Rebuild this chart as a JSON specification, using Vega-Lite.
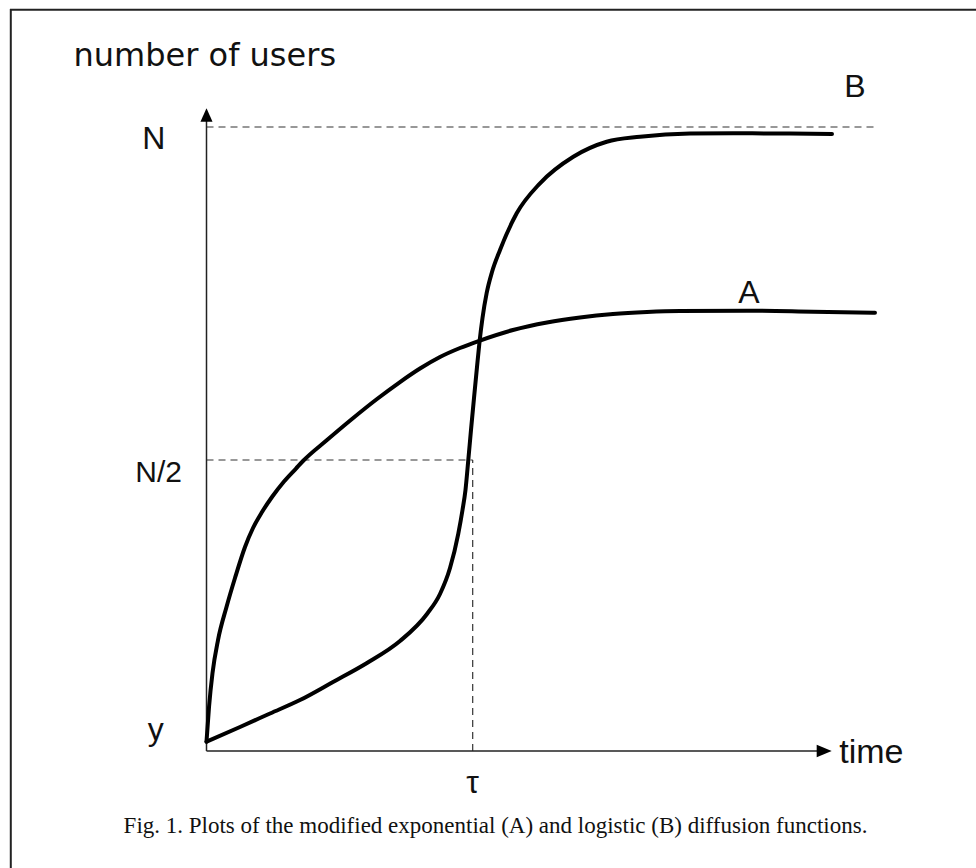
{
  "$schema": "https://vega.github.io/schema/vega-lite/v6.json",
  "width": 966,
  "height": 859,
  "autosize": {"type": "none"},
  "padding": {"left": 10, "top": 9, "right": 0, "bottom": 0},
  "background": "white",
  "config": {"view": {"stroke": null}},
  "datasets": {
    "curves": [
      {"s": "A", "t": 0, "v": 7.7}, {"s": "A", "t": 0.094, "v": 12.91}, {"s": "A", "t": 0.225, "v": 18.02}, {"s": "A", "t": 0.431, "v": 22.97},
      {"s": "A", "t": 0.749, "v": 27.93}, {"s": "A", "t": 1.067, "v": 32.28}, {"s": "A", "t": 1.442, "v": 36.94}, {"s": "A", "t": 1.742, "v": 39.79},
      {"s": "A", "t": 2.079, "v": 42.19}, {"s": "A", "t": 2.453, "v": 44.44}, {"s": "A", "t": 2.903, "v": 46.77}, {"s": "A", "t": 3.352, "v": 48.72},
      {"s": "A", "t": 3.614, "v": 49.85},
      {"s": "A", "t": 4.513, "v": 53.0}, {"s": "A", "t": 5.449, "v": 56.16}, {"s": "A", "t": 6.386, "v": 59.16}, {"s": "A", "t": 7.247, "v": 61.71},
      {"s": "A", "t": 7.996, "v": 63.74}, {"s": "A", "t": 8.745, "v": 65.47}, {"s": "A", "t": 9.494, "v": 66.82}, {"s": "A", "t": 10.243, "v": 67.94},
      {"s": "A", "t": 11.479, "v": 69.52}, {"s": "A", "t": 12.753, "v": 70.65}, {"s": "A", "t": 13.989, "v": 71.4}, {"s": "A", "t": 15.225, "v": 71.92},
      {"s": "A", "t": 16.498, "v": 72.22}, {"s": "A", "t": 17.734, "v": 72.37}, {"s": "A", "t": 20.243, "v": 72.42}, {"s": "A", "t": 22.715, "v": 72.27},
      {"s": "A", "t": 25.037, "v": 72.12},
      {"s": "B", "t": 0, "v": 7.7}, {"s": "B", "t": 1.255, "v": 9.91}, {"s": "B", "t": 2.378, "v": 11.94}, {"s": "B", "t": 3.502, "v": 13.96},
      {"s": "B", "t": 4.738, "v": 16.67}, {"s": "B", "t": 6.011, "v": 19.52}, {"s": "B", "t": 7.247, "v": 22.82}, {"s": "B", "t": 8.258, "v": 26.88},
      {"s": "B", "t": 8.745, "v": 29.88}, {"s": "B", "t": 9.12, "v": 33.78}, {"s": "B", "t": 9.431, "v": 38.96}, {"s": "B", "t": 9.588, "v": 42.49},
      {"s": "B", "t": 9.7, "v": 45.5}, {"s": "B", "t": 9.805, "v": 50.0}, {"s": "B", "t": 9.906, "v": 54.5}, {"s": "B", "t": 10.019, "v": 59.31},
      {"s": "B", "t": 10.131, "v": 63.96}, {"s": "B", "t": 10.225, "v": 67.72}, {"s": "B", "t": 10.337, "v": 71.32}, {"s": "B", "t": 10.494, "v": 75.08},
      {"s": "B", "t": 10.693, "v": 78.23}, {"s": "B", "t": 10.993, "v": 81.53}, {"s": "B", "t": 11.618, "v": 87.04}, {"s": "B", "t": 12.491, "v": 91.55},
      {"s": "B", "t": 13.738, "v": 95.54}, {"s": "B", "t": 14.989, "v": 97.79}, {"s": "B", "t": 16.236, "v": 98.54}, {"s": "B", "t": 18.109, "v": 99.02},
      {"s": "B", "t": 19.719, "v": 99.05}, {"s": "B", "t": 21.854, "v": 99.01}, {"s": "B", "t": 23.427, "v": 98.95}
    ],
    "guides": [
      {"t": 0, "t2": 25.04, "v": 100, "v2": 100},
      {"t": 0, "t2": 9.97, "v": 50, "v2": 50},
      {"t": 9.97, "t2": 9.97, "v": 6.306, "v2": 50}
    ],
    "letters": [
      {"text": "N", "t": -1.974, "v": 96.65},
      {"text": "A", "t": 20.318, "v": 73.53},
      {"text": "B", "t": 24.288, "v": 104.55},
      {"text": "y", "t": -1.899, "v": 7.96},
      {"text": "τ", "t": 9.963, "v": -0.045}
    ]
  },
  "layer": [
    {
      "data": {"values": [{}]},
      "mark": {"type": "rule", "color": "#222", "strokeWidth": 2},
      "encoding": {"y": {"datum": 117.6, "type": "quantitative", "scale": {"domain": [-11.261, 117.718], "nice": false, "zero": false}, "axis": null}}
    },
    {
      "data": {"values": [{}]},
      "mark": {"type": "rule", "color": "#222", "strokeWidth": 2},
      "encoding": {"x": {"datum": -7.33, "type": "quantitative", "scale": {"domain": [-7.3596, 28.8202], "nice": false, "zero": false}, "axis": null}}
    },
    {
      "data": {"name": "guides"},
      "mark": {"type": "rule", "color": "#333", "strokeWidth": 1.2, "strokeDash": [7, 5]},
      "encoding": {
        "x": {"field": "t", "type": "quantitative"},
        "x2": {"field": "t2"},
        "y": {"field": "v", "type": "quantitative"},
        "y2": {"field": "v2"}
      }
    },
    {
      "data": {"values": [{}]},
      "mark": {"type": "rule", "color": "#222", "strokeWidth": 1.5},
      "encoding": {
        "x": {"datum": 0, "type": "quantitative"},
        "y": {"datum": 6.306, "type": "quantitative"},
        "y2": {"datum": 101.0}
      }
    },
    {
      "data": {"values": [{}]},
      "mark": {"type": "rule", "color": "#222", "strokeWidth": 1.5},
      "encoding": {
        "x": {"datum": 0, "type": "quantitative"},
        "x2": {"datum": 22.9},
        "y": {"datum": 6.306, "type": "quantitative"}
      }
    },
    {
      "data": {"name": "curves"},
      "mark": {"type": "line", "interpolate": "monotone", "color": "black", "strokeWidth": 4, "strokeCap": "round"},
      "encoding": {
        "x": {"field": "t", "type": "quantitative"},
        "y": {"field": "v", "type": "quantitative"},
        "detail": {"field": "s"}
      }
    },
    {
      "data": {"values": [{}]},
      "mark": {"type": "point", "shape": "M0,-1L-0.9,1L0.9,1Z", "size": 180, "filled": true, "color": "black", "opacity": 1},
      "encoding": {
        "x": {"datum": 0, "type": "quantitative"},
        "y": {"datum": 101.8, "type": "quantitative"}
      }
    },
    {
      "data": {"values": [{}]},
      "mark": {"type": "point", "shape": "M-1,-0.84L1,0L-1,0.84Z", "size": 225, "filled": true, "color": "black", "opacity": 1},
      "encoding": {
        "x": {"datum": 23.135, "type": "quantitative"},
        "y": {"datum": 6.306, "type": "quantitative"}
      }
    },
    {
      "data": {"name": "letters"},
      "mark": {"type": "text", "font": "Liberation Sans", "fontSize": 32, "align": "center", "baseline": "alphabetic", "color": "#111"},
      "encoding": {
        "x": {"field": "t", "type": "quantitative"},
        "y": {"field": "v", "type": "quantitative"},
        "text": {"field": "text"}
      }
    },
    {
      "data": {"values": [{"text": "N/2", "t": -0.918, "v": 46.74}]},
      "mark": {"type": "text", "font": "Liberation Sans", "fontSize": 30, "align": "right", "baseline": "alphabetic", "color": "#111"},
      "encoding": {
        "x": {"field": "t", "type": "quantitative"},
        "y": {"field": "v", "type": "quantitative"},
        "text": {"field": "text"}
      }
    },
    {
      "data": {"values": [{"text": "time", "t": 23.7, "v": 4.46}]},
      "mark": {"type": "text", "font": "Liberation Sans", "fontSize": 34, "align": "left", "baseline": "alphabetic", "color": "#111"},
      "encoding": {
        "x": {"field": "t", "type": "quantitative"},
        "y": {"field": "v", "type": "quantitative"},
        "text": {"field": "text"}
      }
    },
    {
      "data": {"values": [{"text": "number of users", "t": -4.981, "v": 109.16}]},
      "mark": {"type": "text", "font": "DejaVu Sans", "fontSize": 32, "align": "left", "baseline": "alphabetic", "color": "#111"},
      "encoding": {
        "x": {"field": "t", "type": "quantitative"},
        "y": {"field": "v", "type": "quantitative"},
        "text": {"field": "text"}
      }
    },
    {
      "data": {"values": [{"text": "Fig. 1. Plots of the modified exponential (A) and logistic (B) diffusion functions.", "t": 10.824, "v": -6.05}]},
      "mark": {"type": "text", "font": "Liberation Serif", "fontSize": 23, "align": "center", "baseline": "alphabetic", "color": "#111"},
      "encoding": {
        "x": {"field": "t", "type": "quantitative"},
        "y": {"field": "v", "type": "quantitative"},
        "text": {"field": "text"}
      }
    }
  ]
}
